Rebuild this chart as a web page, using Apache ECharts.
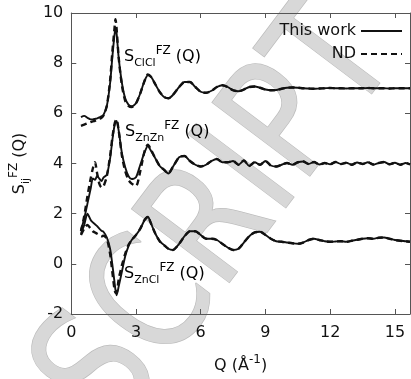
<!DOCTYPE html>
<html>
<head>
<meta charset="utf-8">
<script src="https://cdn.jsdelivr.net/npm/echarts@6/dist/echarts.min.js"></script>
<style>
  html, body { margin: 0; padding: 0; background: #fff; }
  #chart { width: 411px; height: 379px; }
</style>
</head>
<body>
<div id="chart"></div>
<script>
// Faber-Ziman partial structure factors, offset for clarity (ClCl +7, ZnZn +4, ZnCl +1)
const qGrid = [0.45, 0.6, 0.75, 0.9, 1.0, 1.1, 1.2, 1.3, 1.4, 1.5, 1.65, 1.8, 1.9, 2.0, 2.05, 2.1, 2.2, 2.35, 2.5, 2.65, 2.8, 3.0, 3.2, 3.4, 3.55, 3.7, 3.9, 4.1, 4.3, 4.5, 4.7, 5.0, 5.25, 5.5, 5.75, 6.0, 6.25, 6.5, 6.75, 7.0, 7.25, 7.5, 7.75, 8.0, 8.25, 8.5, 8.75, 9.0, 9.25, 9.5, 9.75, 10.0, 10.25, 10.5, 10.75, 11.0, 11.25, 11.5, 11.75, 12.0, 12.25, 12.5, 12.75, 13.0, 13.25, 13.5, 13.75, 14.0, 14.25, 14.5, 14.75, 15.0, 15.25, 15.5, 15.7];

const clclWork = [5.85, 5.9, 5.82, 5.76, 5.76, 5.78, 5.8, 5.84, 5.88, 5.95, 6.3, 7.2, 8.2, 9.1, 9.35, 9.2, 8.2, 7.2, 6.6, 6.35, 6.28, 6.4, 6.8, 7.3, 7.52, 7.45, 7.15, 6.85, 6.65, 6.6, 6.72, 7.05, 7.25, 7.25, 7.05, 6.86, 6.82, 6.9, 7.05, 7.12, 7.05, 6.92, 6.88, 6.95, 7.05, 7.07, 7.02, 6.95, 6.92, 6.93, 6.98, 7.02, 7.03, 7.02, 7.0, 6.99, 6.98, 6.99, 7.0, 7.01, 7.0, 7.0, 6.99, 7.0, 7.0, 7.0, 7.01, 7.0, 7.0, 7.0, 6.99, 7.0, 7.0, 7.0, 7.0];
const clclND = [5.5, 5.55, 5.6, 5.65, 5.68, 5.7, 5.74, 5.78, 5.82, 5.92, 6.3, 7.3, 8.4, 9.35, 9.75, 9.4, 8.2, 7.1, 6.5, 6.3, 6.25, 6.4, 6.8, 7.3, 7.55, 7.45, 7.15, 6.85, 6.65, 6.6, 6.72, 7.05, 7.25, 7.25, 7.05, 6.86, 6.82, 6.9, 7.05, 7.12, 7.05, 6.92, 6.88, 6.95, 7.05, 7.07, 7.02, 6.95, 6.92, 6.93, 6.98, 7.02, 7.03, 7.02, 7.0, 6.99, 6.98, 6.99, 7.0, 7.01, 7.0, 7.0, 6.99, 7.0, 7.0, 7.0, 7.01, 7.0, 7.0, 7.0, 6.99, 7.0, 7.0, 7.0, 7.0];

const znznWork = [1.35, 1.8, 2.4, 3.0, 3.4, 3.35, 3.5, 3.4, 3.3, 3.45, 3.55, 4.2, 4.9, 5.5, 5.65, 5.7, 5.3, 4.4, 3.85, 3.5, 3.38, 3.45, 3.95, 4.45, 4.7, 4.5, 4.2, 3.9, 3.75, 3.6, 3.85, 4.25, 4.3, 4.1, 3.95, 3.88, 3.95, 4.1, 4.18, 4.05, 4.05, 4.1, 3.95, 4.12, 3.9, 4.05, 3.95, 4.1, 3.92, 3.88, 3.95, 4.02, 3.95, 4.05, 4.08, 3.98, 4.06, 3.96, 4.02, 3.97, 4.06, 3.98, 4.03, 3.95, 4.04, 3.98, 4.05, 3.96, 4.02, 4.06, 3.97, 4.03, 3.95, 4.02, 3.96];
const znznND = [1.3, 1.9, 2.7, 3.4, 3.8, 4.05, 3.6, 3.2, 3.05, 3.1, 3.5, 4.3, 5.0, 5.55, 5.7, 5.75, 5.3, 4.3, 3.7, 3.35, 3.2, 3.1, 3.7, 4.5, 4.75, 4.55, 4.2, 3.9, 3.75, 3.6, 3.85, 4.25, 4.3, 4.1, 3.95, 3.88, 3.95, 4.1, 4.18, 4.05, 4.05, 4.1, 3.95, 4.12, 3.9, 4.05, 3.95, 4.1, 3.92, 3.88, 3.95, 4.02, 3.95, 4.05, 4.08, 3.98, 4.06, 3.96, 4.02, 3.97, 4.06, 3.98, 4.03, 3.95, 4.04, 3.98, 4.05, 3.96, 4.02, 4.06, 3.97, 4.03, 3.95, 4.02, 3.96];

const znclWork = [1.2, 1.55, 2.0, 1.75, 1.65, 1.58, 1.5, 1.4, 1.32, 1.27, 1.05, 0.6, 0.0, -0.7, -1.05, -1.25, -0.9, -0.3, 0.3, 0.7, 0.95, 1.15, 1.4, 1.75, 1.88, 1.6, 1.2, 0.9, 0.75, 0.6, 0.55, 0.8, 1.1, 1.3, 1.3, 1.15, 1.0, 1.0, 0.95, 0.8, 0.65, 0.55, 0.6, 0.85, 1.1, 1.25, 1.28, 1.15, 1.0, 0.9, 0.88, 0.85, 0.82, 0.8, 0.85, 0.95, 1.0, 0.95, 0.9, 0.88, 0.89, 0.9, 0.88, 0.92, 0.96, 1.0, 1.02, 1.0, 1.04, 1.05, 1.0, 0.95, 0.92, 0.9, 0.88];
const znclND = [1.15, 1.4, 1.55, 1.4, 1.3, 1.25, 1.2, 1.15, 1.1, 1.12, 1.0, 0.4, -0.3, -1.0, -1.15, -1.15, -0.6, -0.05, 0.4, 0.75, 0.95, 1.15, 1.4, 1.75, 1.88, 1.6, 1.2, 0.9, 0.75, 0.6, 0.55, 0.8, 1.1, 1.3, 1.3, 1.15, 1.0, 1.0, 0.95, 0.8, 0.65, 0.55, 0.6, 0.85, 1.1, 1.25, 1.28, 1.15, 1.0, 0.9, 0.88, 0.85, 0.82, 0.8, 0.85, 0.95, 1.0, 0.95, 0.9, 0.88, 0.89, 0.9, 0.88, 0.92, 0.96, 1.0, 1.02, 1.0, 1.04, 1.05, 1.0, 0.95, 0.92, 0.9, 0.88];

const xTicks = [0, 3, 6, 9, 12, 15];
const yTicks = [-2, 0, 2, 4, 6, 8, 10];

const FONT = '"DejaVu Sans", sans-serif';
const AXIS_COLOR = '#555';
const INK = '#111';

function pairs(ys) { return qGrid.map((q, i) => [q, ys[i]]); }

function curve(name, ys, dashed) {
  return {
    type: 'line', name: name, data: pairs(ys),
    symbol: 'none', smooth: 0.25, silent: true,
    itemStyle: { color: INK },
    lineStyle: dashed
      ? { color: INK, width: 2.4, type: [6, 4] }
      : { color: INK, width: 1.9, type: 'solid' },
    z: dashed ? 3 : 4
  };
}

// rich-text styles for S_ij^FZ(Q) style labels
const richLabel = {
  s:   { fontFamily: FONT, fontSize: 16, color: INK, lineHeight: 24 },
  sub: { fontFamily: FONT, fontSize: 11, color: INK, lineHeight: 11, verticalAlign: 'bottom' },
  sup: { fontFamily: FONT, fontSize: 12, color: INK, lineHeight: 12, verticalAlign: 'top' },
  n:   { fontFamily: FONT, fontSize: 16, color: INK, lineHeight: 24 }
};

function partialLabel(x, y, pair) {
  return {
    type: 'text', left: x, top: y, z: 10, silent: true,
    style: { text: '{s|S}{sub|' + pair + '}{sup|FZ}{n| (Q)}', rich: richLabel }
  };
}

const inside = { show: true, inside: true, length: 5, lineStyle: { color: AXIS_COLOR } };
const line = { show: true, onZero: false, lineStyle: { color: AXIS_COLOR, width: 1 } };

const chart = echarts.init(document.getElementById('chart'), null, { renderer: 'canvas' });
chart.setOption({
  animation: false,
  backgroundColor: '#fff',
  grid: { left: 68, right: 1, top: 13, bottom: 63, containLabel: false },
  legend: {
    data: ['This work', 'ND'], orient: 'vertical', right: 3, top: 18,
    align: 'right', itemWidth: 41, itemHeight: 14, itemGap: 7,
    itemStyle: { opacity: 0 },
    textStyle: { fontFamily: FONT, fontSize: 16, color: INK },
    selectedMode: false
  },
  xAxis: [{
    type: 'value', min: xTicks[0], max: 15.7, interval: 3,
    axisLine: line, axisTick: inside, splitLine: { show: false },
    axisLabel: { fontFamily: FONT, fontSize: 16, color: INK, margin: 11, showMaxLabel: false },
    name: '{n|Q (Å}{sup|-1}{n|)}', nameLocation: 'middle', nameGap: 40,
    nameTextStyle: { rich: richLabel }
  }, {
    type: 'value', position: 'top', min: xTicks[0], max: 15.7, interval: 3,
    axisLine: line, axisTick: inside, axisLabel: { show: false }, splitLine: { show: false }
  }],
  yAxis: [{
    type: 'value', min: yTicks[0], max: yTicks[yTicks.length - 1], interval: 2,
    axisLine: line, axisTick: inside, splitLine: { show: false },
    axisLabel: { fontFamily: FONT, fontSize: 16, color: INK, margin: 8 },
    name: '{s|S}{sub|ij}{sup|FZ}{n| (Q)}', nameLocation: 'middle', nameRotate: 90, nameGap: 20,
    nameTextStyle: { rich: richLabel }
  }, {
    type: 'value', position: 'right', min: yTicks[0], max: yTicks[yTicks.length - 1], interval: 2,
    axisLine: line, axisTick: inside, axisLabel: { show: false }, splitLine: { show: false }
  }],
  graphic: [
    {
      type: 'text', x: 222, y: 220, rotation: 53 * Math.PI / 180, scaleY: 1.24, z: -1, silent: true,
      style: {
        text: 'SCRIPT', fontFamily: FONT, fontWeight: 'normal', fontSize: 135,
        fill: '#d8d8d8', stroke: '#bdbdbd', lineWidth: 1.2,
        align: 'center', verticalAlign: 'middle'
      }
    },
    partialLabel(124, 45, 'ClCl'),
    partialLabel(125, 120, 'ZnZn'),
    partialLabel(124, 262, 'ZnCl')
  ],
  series: [
    curve('This work', clclWork, false),
    curve('ND', clclND, true),
    curve('This work', znznWork, false),
    curve('ND', znznND, true),
    curve('This work', znclWork, false),
    curve('ND', znclND, true)
  ]
});
</script>
</body>
</html>
